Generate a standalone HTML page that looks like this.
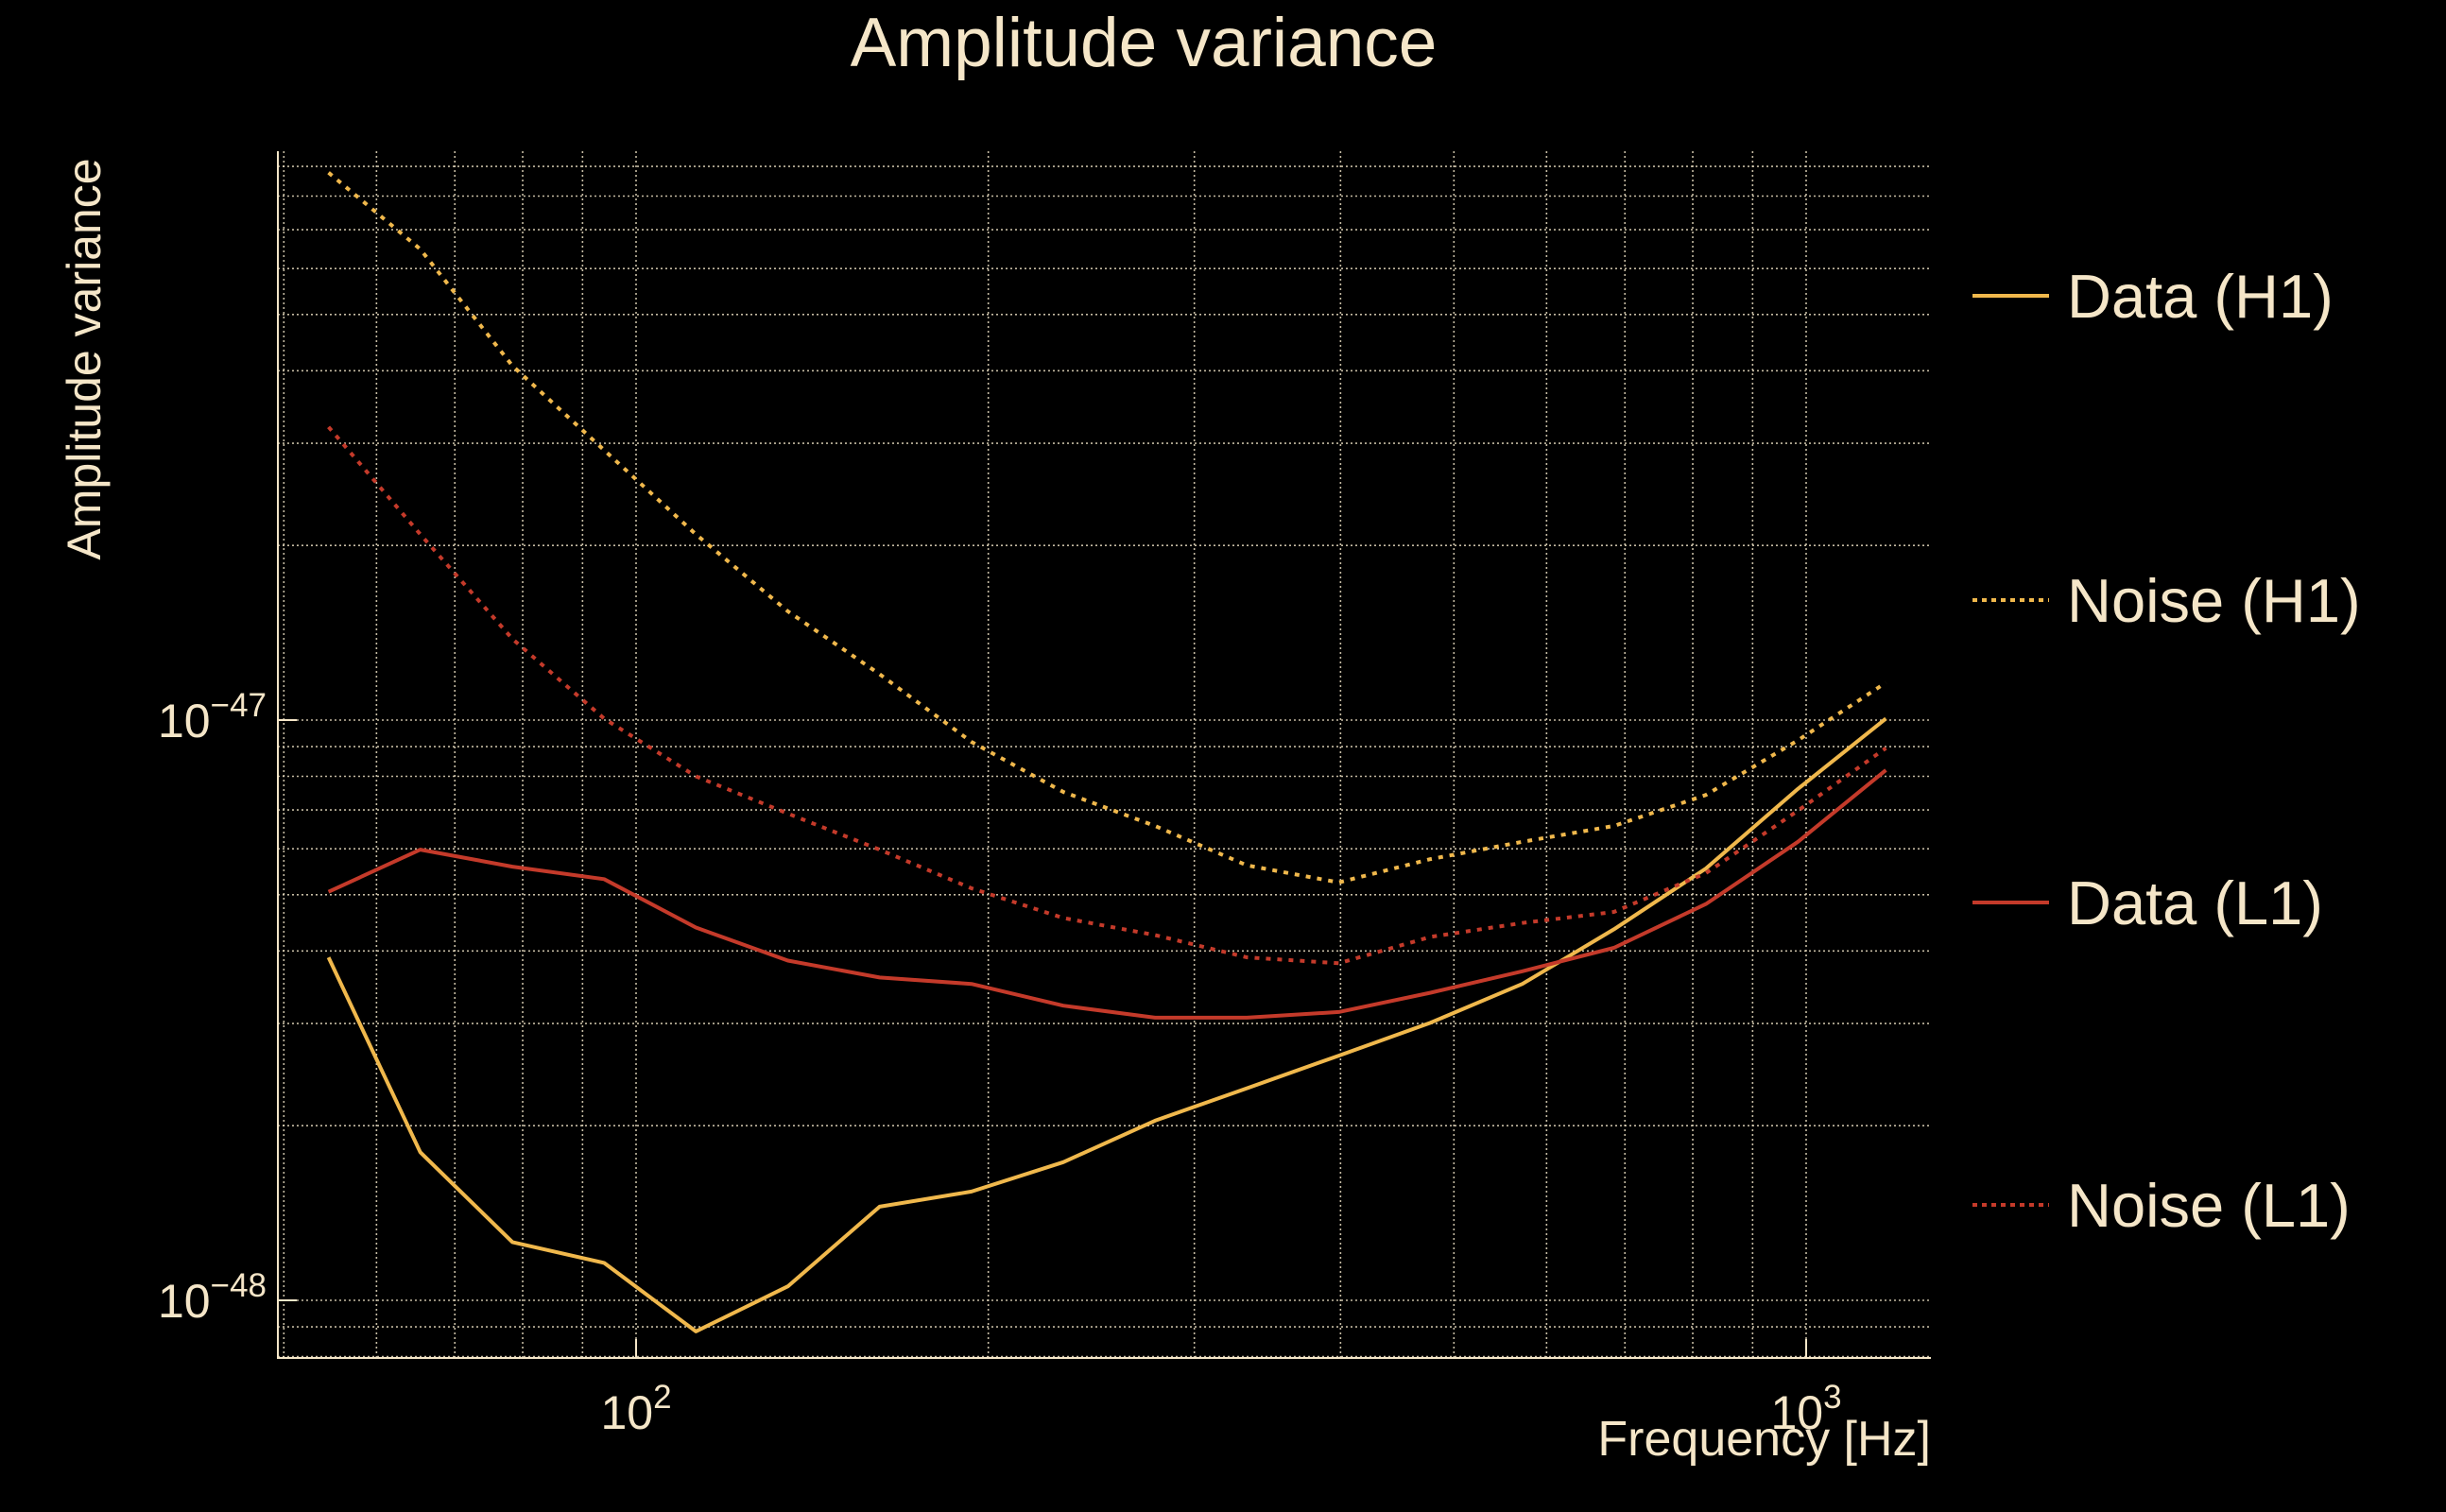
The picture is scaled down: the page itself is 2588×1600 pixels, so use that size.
<!DOCTYPE html>
<html><head><meta charset="utf-8"><style>
html,body{margin:0;padding:0;background:#000;}
svg{display:block;font-family:"Liberation Sans",sans-serif;}
</style></head><body>
<svg id="chart" width="2588" height="1600" viewBox="0 0 2588 1600" xmlns="http://www.w3.org/2000/svg">
<rect width="2588" height="1600" fill="#000"/>
<text x="1210" y="70" font-size="73" fill="#f5e6c8" text-anchor="middle">Amplitude variance</text>
<text transform="translate(106,380) rotate(-90)" font-size="50" fill="#f5e6c8" text-anchor="middle">Amplitude variance</text>
<text x="2043" y="1540" font-size="52" fill="#f5e6c8" text-anchor="end">Frequency [Hz]</text>
<g id="grid"></g>
<g id="ticks"></g>
<g id="series"></g>
<g id="legend"></g>
</svg>
<script>
const freqs = [54.6,65.4,78.4,93.9,112.5,134.8,161.5,193.5,231.8,277.7,332.7,398.6,477.5,572,685,821,984,1170];
const dataH1 = [3.90e-48,1.80e-48,1.26e-48,1.16e-48,8.84e-49,1.057e-48,1.45e-48,1.54e-48,1.73e-48,2.04e-48,2.32e-48,2.64e-48,3.01e-48,3.51e-48,4.36e-48,5.55e-48,7.61e-48,1.006e-47];
const dataL1 = [5.06e-48,5.98e-48,5.59e-48,5.32e-48,4.39e-48,3.85e-48,3.60e-48,3.51e-48,3.22e-48,3.07e-48,3.07e-48,3.14e-48,3.39e-48,3.69e-48,4.05e-48,4.82e-48,6.17e-48,8.20e-48];
const noiseH1 = [8.78e-47,6.48e-47,4.08e-47,2.92e-47,2.09e-47,1.54e-47,1.20e-47,9.17e-48,7.52e-48,6.57e-48,5.62e-48,5.25e-48,5.76e-48,6.17e-48,6.57e-48,7.43e-48,9.23e-48,1.16e-47];
const noiseL1 = [3.20e-47,2.09e-47,1.38e-47,1.006e-47,8.00e-48,6.90e-48,5.98e-48,5.13e-48,4.56e-48,4.26e-48,3.90e-48,3.81e-48,4.23e-48,4.47e-48,4.67e-48,5.45e-48,6.98e-48,8.95e-48];
const xTickLabels = ["2","3"];
const yTickLabels = ["−47","−48"];

const NS="http://www.w3.org/2000/svg";
const L=294,R=2043,T=160,B=1437;
const X0=673, XDEC=1238;
const Y0=762, YDEC=614;
function xs(f){return X0+XDEC*Math.log10(f/100);}
function ys(v){return Y0-YDEC*(Math.log10(v)+47);}
function mk(tag,attrs,parent){const e=document.createElementNS(NS,tag);for(const k in attrs)e.setAttribute(k,attrs[k]);parent.appendChild(e);return e;}

const grid=document.getElementById('grid');
const gridStyle={stroke:"#e8dcc0","stroke-width":1.6,"stroke-dasharray":"2,3",opacity:0.85};
[50,60,70,80,90,100,200,300,400,500,600,700,800,900,1000].forEach(f=>{
  const x=xs(f);
  const l=mk('line',Object.assign({x1:x,x2:x,y1:T,y2:B},gridStyle),grid);
  
  
});
[[8,-49],[9,-49],[1,-48],[2,-48],[3,-48],[4,-48],[5,-48],[6,-48],[7,-48],[8,-48],[9,-48],[1,-47],[2,-47],[3,-47],[4,-47],[5,-47],[6,-47],[7,-47],[8,-47],[9,-47]].forEach(([m,e])=>{
  const y=ys(m*Math.pow(10,e));
  if(y<T||y>B)return;
  const l=mk('line',Object.assign({x1:L,x2:R,y1:y,y2:y},gridStyle),grid);
  
  
});
const ax=mk('path',{d:`M${L},${T} L${L},${B} L${R},${B}`,stroke:"#f5e6c8","stroke-width":2,fill:"none"},grid);



const ticks=document.getElementById('ticks');
[[100,0],[1000,1]].forEach(([f,i])=>{
  const t=mk('text',{x:xs(f),y:1512,"font-size":50,fill:"#f5e6c8","text-anchor":"middle"},ticks);
  
  
  t.innerHTML='10<tspan dy="-22" font-size="35">'+xTickLabels[i]+'</tspan>';
  mk('line',{x1:xs(f),x2:xs(f),y1:B,y2:B-20,stroke:"#f5e6c8","stroke-width":2},ticks);
});
[[1e-47,0],[1e-48,1]].forEach(([v,i])=>{
  const t=mk('text',{x:282,y:ys(v)+18,"font-size":50,fill:"#f5e6c8","text-anchor":"end"},ticks);
  
  
  t.innerHTML='10<tspan dy="-22" font-size="35">'+yTickLabels[i]+'</tspan>';
  mk('line',{x1:L,x2:L+20,y1:ys(v),y2:ys(v),stroke:"#f5e6c8","stroke-width":2},ticks);
});

const series=[
  {name:'data-h1',label:'Data (H1)',vals:dataH1,color:'#f0b84c',dash:null},
  {name:'noise-h1',label:'Noise (H1)',vals:noiseH1,color:'#f0b84c',dash:'5,7'},
  {name:'data-l1',label:'Data (L1)',vals:dataL1,color:'#c43a2a',dash:null},
  {name:'noise-l1',label:'Noise (L1)',vals:noiseL1,color:'#c43a2a',dash:'5,7'}
];
const sg=document.getElementById('series');
const lg=document.getElementById('legend');
const legY=[313,635,955,1275];
series.forEach((s,i)=>{
  const d=s.vals.map((v,j)=>(j?'L':'M')+xs(freqs[j]).toFixed(1)+','+ys(v).toFixed(1)).join(' ');
  const p=mk('path',{d:d,stroke:s.color,"stroke-width":4,fill:"none","stroke-linejoin":"round"},sg);
  if(s.dash)p.setAttribute('stroke-dasharray',s.dash);
  
  
  const g=mk('g',{},lg);
  
  
  const ll=mk('line',{x1:2087,x2:2168,y1:legY[i],y2:legY[i],stroke:s.color,"stroke-width":4},g);
  if(s.dash)ll.setAttribute('stroke-dasharray','5,5');
  const t=mk('text',{x:2187,y:legY[i]+23,"font-size":65,fill:"#f5e6c8"},g);
  t.textContent=s.label;
});
</script>
</body></html>
